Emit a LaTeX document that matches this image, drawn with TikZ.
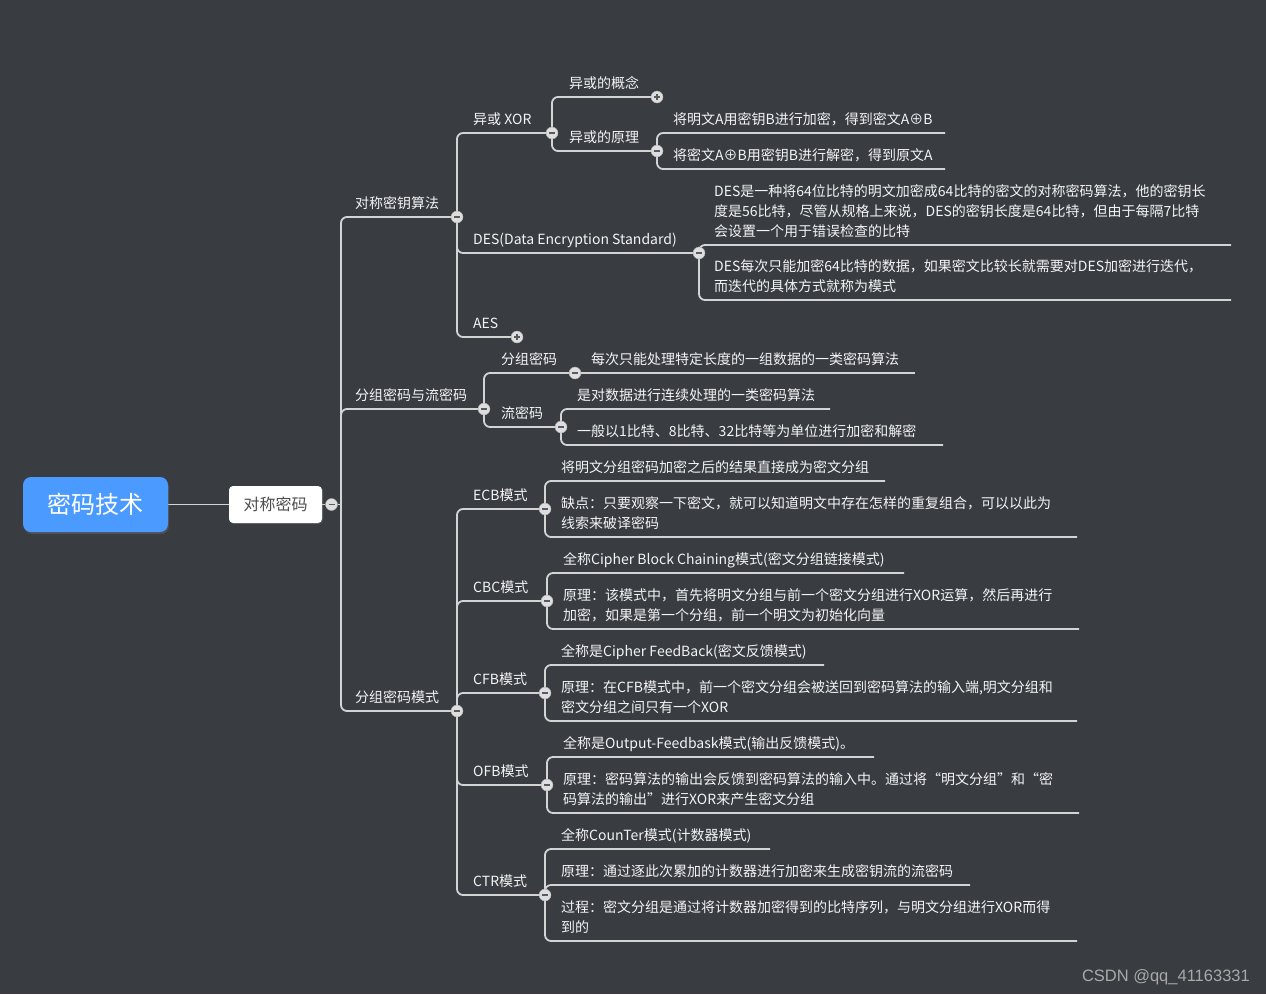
\documentclass[tikz,border=0pt]{standalone}
\usepackage{fontspec}
\setmainfont{Noto Sans CJK SC}
\newfontfamily\wmfont{Liberation Sans}
\usepackage{xcolor}
\usetikzlibrary{positioning, backgrounds, shadows}
\definecolor{bg}{HTML}{393C41}
\definecolor{branchline}{HTML}{D4D4D4}
\definecolor{txt}{HTML}{F4F4F4}
\definecolor{rootblue}{HTML}{4A9AFF}
\definecolor{foldfill}{HTML}{DEDEDE}
\definecolor{foldsign}{HTML}{5A5A5A}
\definecolor{boxtxt}{HTML}{4D4D4D}
\definecolor{wm}{HTML}{A9A9A9}

\begin{document}
\begin{tikzpicture}[x=1pt, y=-1pt,
    branch/.style={draw=branchline, line width=1.8pt, rounded corners=6pt},
    topic/.style={anchor=base west, inner sep=0pt, yshift=9pt, text=txt, align=left, font=\fontsize{14}{20}\selectfont},
    fold/.style={circle, fill=foldfill, draw=foldsign!50, line width=0.4pt, minimum size=12pt, inner sep=0pt,
      path picture={\draw[foldsign, line width=1.6pt] ([xshift=-3pt]path picture bounding box.center) -- ([xshift=3pt]path picture bounding box.center);}},
    unfold/.style={circle, fill=foldfill, draw=foldsign!50, line width=0.4pt, minimum size=12pt, inner sep=0pt,
      path picture={\draw[foldsign, line width=1.6pt] ([xshift=-3pt]path picture bounding box.center) -- ([xshift=3pt]path picture bounding box.center)
        ([yshift=-3pt]path picture bounding box.center) -- ([yshift=3pt]path picture bounding box.center);}},
    rootbox/.style={fill=rootblue, rounded corners=8pt, minimum width=145pt, minimum height=55pt, text=white, font=\fontsize{24}{28}\selectfont,
      drop shadow={shadow xshift=1pt, shadow yshift=-2pt, opacity=0.3}},
    subbox/.style={fill=white, rounded corners=4pt, minimum width=93pt, minimum height=37pt, text=boxtxt, font=\fontsize{16}{20}\selectfont,
      drop shadow={shadow xshift=1pt, shadow yshift=-1pt, opacity=0.3}}
]
      \node[rootbox] (root) at (95.5,504.5) {密码技术};
      \node[subbox] (sym) at (275.5,504.5) {对称密码};
      \node[fold] (symc) at (331.5,504.5) {};
      \coordinate (sp) at (341,504.5);

      \node[fold] (alg) at (457,217) {};
      \node[topic] (alg-t) at (355,217) {对称密钥算法};
      \node[fold] (bs) at (484,409) {};
      \node[topic] (bs-t) at (355,409) {分组密码与流密码};
      \node[fold] (mode) at (457,711) {};
      \node[topic] (mode-t) at (355,711) {分组密码模式};

      \node[fold] (xor) at (552,133) {};
      \node[topic] (xor-t) at (473,133) {异或 XOR};
      \node[fold] (des) at (699,253) {};
      \node[topic] (des-t) at (473,253) {DES(Data Encryption Standard)};
      \node[unfold] (aes) at (517,337) {};
      \node[topic] (aes-t) at (473,337) {AES};

      \node[unfold] (xc) at (657,97) {};
      \node[topic] (xc-t) at (569,97) {异或的概念};
      \node[fold] (xp) at (657,151) {};
      \node[topic] (xp-t) at (569,151) {异或的原理};
      \coordinate (xp1) at (945,133);
      \node[topic] (xp1-t) at (673,133) {将明文A用密钥B进行加密，得到密文A⊕B};
      \coordinate (xp2) at (945,169);
      \node[topic] (xp2-t) at (673,169) {将密文A⊕B用密钥B进行解密，得到原文A};

      \coordinate (des1) at (1231,245);
      \node[topic] (des1-t) at (714,245) {DES是一种将64位比特的明文加密成64比特的密文的对称密码算法，他的密钥长\\度是56比特，尽管从规格上来说，DES的密钥长度是64比特，但由于每隔7比特\\会设置一个用于错误检查的比特};
      \coordinate (des2) at (1231,300);
      \node[topic] (des2-t) at (714,300) {DES每次只能加密64比特的数据，如果密文比较长就需要对DES加密进行迭代，\\而迭代的具体方式就称为模式};

      \node[fold] (blk) at (575,373) {};
      \node[topic] (blk-t) at (501,373) {分组密码};
      \node[fold] (strm) at (561,427) {};
      \node[topic] (strm-t) at (501,427) {流密码};
      \coordinate (blk1) at (915,373);
      \node[topic] (blk1-t) at (591,373) {每次只能处理特定长度的一组数据的一类密码算法};
      \coordinate (strm1) at (830,409);
      \node[topic] (strm1-t) at (577,409) {是对数据进行连续处理的一类密码算法};
      \coordinate (strm2) at (943,445);
      \node[topic] (strm2-t) at (577,445) {一般以1比特、8比特、32比特等为单位进行加密和解密};

      \node[fold] (ecb) at (545,509) {};
      \node[topic] (ecb-t) at (473,509) {ECB模式};
      \node[fold] (cbc) at (547,601) {};
      \node[topic] (cbc-t) at (473,601) {CBC模式};
      \node[fold] (cfb) at (545,693) {};
      \node[topic] (cfb-t) at (473,693) {CFB模式};
      \node[fold] (ofb) at (547,785) {};
      \node[topic] (ofb-t) at (473,785) {OFB模式};
      \node[fold] (ctr) at (545,895) {};
      \node[topic] (ctr-t) at (473,895) {CTR模式};

      \coordinate (ecb1) at (885,481);
      \node[topic] (ecb1-t) at (561,481) {将明文分组密码加密之后的结果直接成为密文分组};
      \coordinate (ecb2) at (1077,537);
      \node[topic] (ecb2-t) at (561,537) {缺点：只要观察一下密文，就可以知道明文中存在怎样的重复组合，可以以此为\\线索来破译密码};
      \coordinate (cbc1) at (904,573);
      \node[topic] (cbc1-t) at (563,573) {全称Cipher Block Chaining模式(密文分组链接模式)};
      \coordinate (cbc2) at (1079,629);
      \node[topic] (cbc2-t) at (563,629) {原理：该模式中，首先将明文分组与前一个密文分组进行XOR运算，然后再进行\\加密，如果是第一个分组，前一个明文为初始化向量};
      \coordinate (cfb1) at (824,665);
      \node[topic] (cfb1-t) at (561,665) {全称是Cipher FeedBack(密文反馈模式)};
      \coordinate (cfb2) at (1077,721);
      \node[topic] (cfb2-t) at (561,721) {原理：在CFB模式中，前一个密文分组会被送回到密码算法的输入端,明文分组和\\密文分组之间只有一个XOR};
      \coordinate (ofb1) at (874,757);
      \node[topic] (ofb1-t) at (563,757) {全称是Output-Feedbask模式(输出反馈模式)。};
      \coordinate (ofb2) at (1079,813);
      \node[topic] (ofb2-t) at (563,813) {原理：密码算法的输出会反馈到密码算法的输入中。通过将“明文分组”和“密\\码算法的输出”进行XOR来产生密文分组};
      \coordinate (ctr1) at (770,849);
      \node[topic] (ctr1-t) at (561,849) {全称CounTer模式(计数器模式)};
      \coordinate (ctr2) at (970,885);
      \node[topic] (ctr2-t) at (561,885) {原理：通过逐此次累加的计数器进行加密来生成密钥流的流密码};
      \coordinate (ctr3) at (1077,941);
      \node[topic] (ctr3-t) at (561,941) {过程：密文分组是通过将计数器加密得到的比特序列，与明文分组进行XOR而得\\到的};

      \node[anchor=base east, inner sep=0pt, text=wm, font=\wmfont\fontsize{16.5}{20}\selectfont] (mark) at (1250,981) {CSDN @qq\_41163331};

      \begin{pgfonlayer}{background}
      \fill[bg] (0,0) rectangle (1266,994);
      \draw[branch] (root) -- (sym) -- (symc) -- (sp);
      \draw[branch] (sp) |- (alg) (sp) |- (bs) (sp) |- (mode);
      \draw[branch] (alg) |- (xor) (alg) |- (des) (alg) |- (aes);
      \draw[branch] (xor) |- (xc) (xor) |- (xp);
      \draw[branch] (xp) |- (xp1) (xp) |- (xp2);
      \draw[branch] (des) |- (des1) (des) |- (des2);
      \draw[branch] (bs) |- (blk) (bs) |- (strm);
      \draw[branch] (blk) -- (blk1);
      \draw[branch] (strm) |- (strm1) (strm) |- (strm2);
      \draw[branch] (mode) |- (ecb) (mode) |- (cbc) (mode) |- (cfb) (mode) |- (ofb) (mode) |- (ctr);
      \draw[branch] (ecb) |- (ecb1) (ecb) |- (ecb2);
      \draw[branch] (cbc) |- (cbc1) (cbc) |- (cbc2);
      \draw[branch] (cfb) |- (cfb1) (cfb) |- (cfb2);
      \draw[branch] (ofb) |- (ofb1) (ofb) |- (ofb2);
      \draw[branch] (ctr) |- (ctr1) (ctr) |- (ctr2) (ctr) |- (ctr3);
      \end{pgfonlayer}
\end{tikzpicture}
\end{document}
